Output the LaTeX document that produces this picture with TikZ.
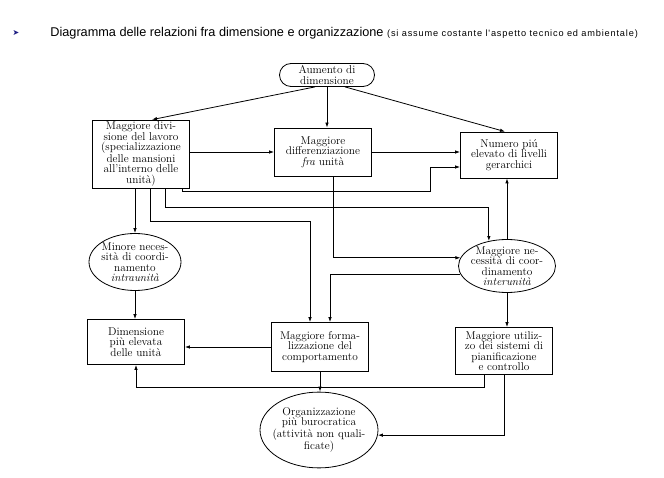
\documentclass[tikz,border=0pt]{standalone}
\usepackage{fontspec}
\usepackage{tikz}
\usetikzlibrary{arrows.meta,shapes.geometric}
\newfontfamily\titlefont{Liberation Sans}
\newfontfamily\symfont{DejaVu Sans}
\definecolor{navy}{HTML}{1C1C82}

\begin{document}
\begin{tikzpicture}[x=1pt, y=-1pt, >={Latex[length=5pt,width=3.5pt]}, line width=0.8pt,
    font=\fontsize{11.3}{10.4}\selectfont,
    b/.style={draw, align=center, minimum width=97pt, inner sep=2pt},
    e/.style={draw, ellipse, align=center}]
    \useasboundingbox (0,0) rectangle (664,478);

    % heading
    \node[text=navy, font=\symfont\fontsize{8}{8}\selectfont] (bul) at (16,33) {➤};
    \node[anchor=west, inner sep=0pt, font=\titlefont\fontsize{12.7}{13}\selectfont] (tit) at (50,33)
      {Diagramma delle relazioni fra dimensione e organizzazione
       {\fontsize{9.2}{10}\selectfont\addfontfeatures{LetterSpace=9}(si assume costante l'aspetto tecnico ed ambientale)}};

    \node[b, rounded corners=11.5pt, minimum width=95pt, minimum height=23pt, inner sep=1pt] (A) at (327,75)
      {Aumento di\\dimensione};
    \node[b, minimum height=62pt] (B) at (141,154)
      {Maggiore divi-\\sione del lavoro\\(specializzazione\\delle mansioni\\all'interno delle\\unità)};
    \node[b, minimum height=48pt] (C) at (323,152) {Maggiore\\differenziazione\\\textit{fra} unità};
    \node[b, minimum height=46pt] (D) at (509,155) {Numero piú\\elevato di livelli\\gerarchici};

    \node[e, minimum width=92pt, minimum height=57pt, inner xsep=-1.7pt, inner ysep=-0.3pt] (E) at (135,262)
      {Minore neces-\\sità di coordi-\\namento\\\textit{intraunità}};
    \node[e, minimum width=97pt, minimum height=53pt, inner xsep=-2.5pt, inner ysep=-1.8pt] (F) at (507,266)
      {Maggiore ne-\\cessità di coor-\\dinamento\\\textit{interunità}};

    \node[b, minimum height=45pt] (G) at (136,342) {Dimensione\\più elevata\\delle unità};
    \node[b, minimum height=49pt] (H) at (320,347) {Maggiore forma-\\lizzazione del\\comportamento};
    \node[b, minimum height=47pt] (I) at (504,351)
      {Maggiore utiliz-\\zo dei sistemi di\\pianificazione\\e controllo};

    \node[e, minimum width=118pt, minimum height=70pt, inner xsep=-5.7pt, inner ysep=4.2pt] (J) at (319,430)
      {Organizzazione\\più burocratica\\(attività non quali-\\ficate)};

    % connectors
    \draw[->] ([xshift=-12pt]A.south) -- ([xshift=11pt]B.north);
    \draw[->] (A.south) -- (A.south |- C.north);
    \draw[->] ([xshift=18pt]A.south) -- ([xshift=-4pt]D.north);
    \draw[->] (C.west -| B.east) -- (C.west);
    \draw[->] (C.east) -- (C.east -| D.west);
    \draw[->] ([xshift=-8pt]B.south east) -- ++(0,3) -| (430,167) -- ([yshift=-12pt]D.west);
    \draw[->] (B.south -| E.north) -- (E.north);
    \draw[->] ([xshift=24pt]B.south) -- ++(0,19) -| (F.126);
    \draw[->] ([xshift=9pt]B.south) -- ++(0,33) -| ([xshift=-10pt]H.north);
    \draw[->] ([xshift=10pt]C.south) |- (F.170);
    \draw[->] (F.190) -| ([xshift=10pt]H.north);
    \draw[->] (F.north) -- (F.north |- D.south);
    \draw[->] (F.south) -- (F.south |- I.north);
    \draw[->] (E.south) -- (E.south |- G.north);
    \draw[->] (H.west) -- (H.west -| G.east);
    \draw[->] (H.south) -- (H.south |- J.north);
    \draw[->] ([xshift=-20pt]I.south) -- ++(0,12) -| (G.south);
    \draw[->] (I.south) |- (J.-5);
\end{tikzpicture}
\end{document}
